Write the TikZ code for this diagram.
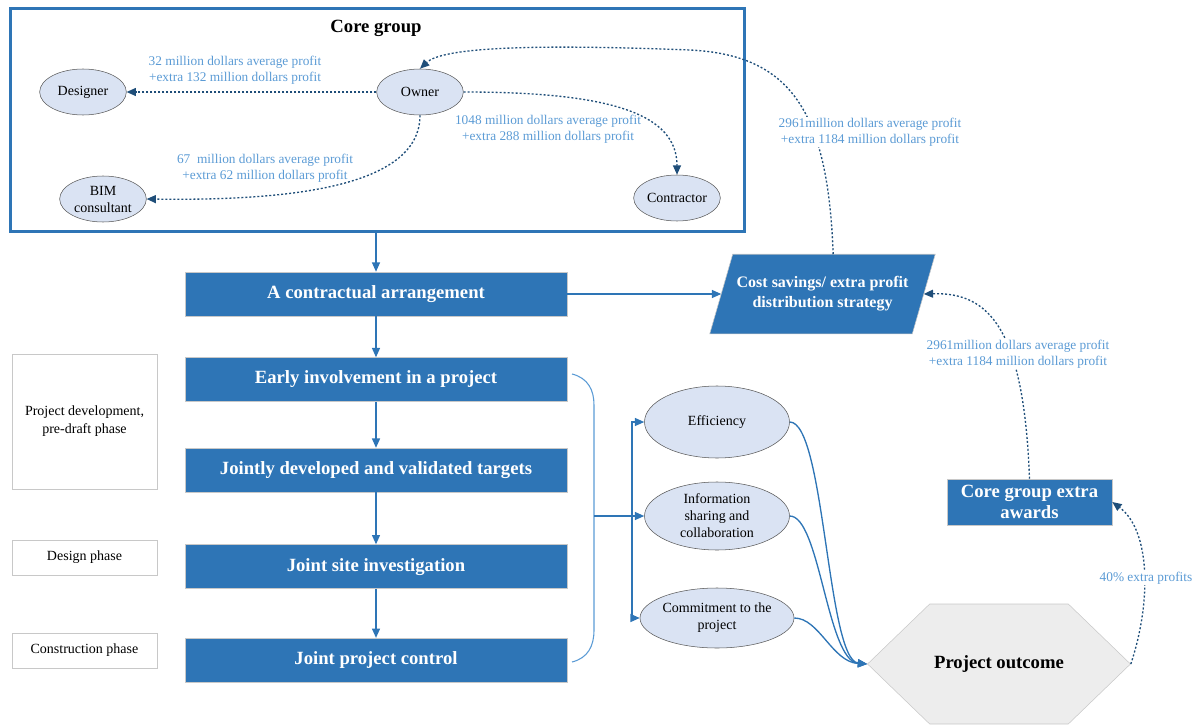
\documentclass[tikz,border=0pt]{standalone}
\usepackage{fontspec}
\setmainfont{Liberation Serif}
\usetikzlibrary{shapes.geometric, shapes.symbols, arrows.meta, positioning, backgrounds}
\definecolor{mainblue}{RGB}{46,117,182}
\definecolor{navy}{RGB}{31,78,121}
\definecolor{labelblue}{RGB}{91,155,213}
\definecolor{ellfill}{RGB}{218,227,243}
\definecolor{ellline}{RGB}{89,89,89}
\definecolor{hexfill}{RGB}{237,237,237}
\definecolor{paleline}{RGB}{200,200,200}

\begin{document}
\begin{tikzpicture}[
  x=0.75pt, y=-0.75pt,
  stagebox/.style={rectangle, draw=paleline, fill=mainblue, minimum width=286.5pt, minimum height=33pt,
    inner sep=2pt, font=\fontsize{14}{16}\selectfont\bfseries\color{white}, align=center},
  party/.style={ellipse, draw=ellline, fill=ellfill, minimum width=65pt, minimum height=34.5pt,
    inner sep=0pt, font=\fontsize{10.5}{12.75}\selectfont, align=center},
  factor/.style={party, minimum width=108.75pt, minimum height=#1},
  phasebox/.style={rectangle, draw=paleline, fill=white, minimum width=108.75pt, minimum height=#1,
    font=\fontsize{10.5}{13.5}\selectfont, align=center},
  money/.style={font=\fontsize{10}{12}\selectfont\color{labelblue}, align=center, inner sep=1pt},
  blueline/.style={-{Triangle[length=7pt, width=6pt]}, line width=1pt, mainblue},
  payline/.style={-{Triangle[length=7pt, width=6pt]}, line width=1pt, navy, dash pattern=on 1.5pt off 1.5pt}
]
\useasboundingbox (0,0) rectangle (1204,728);

% Core group
\node[draw=mainblue, line width=2.25pt, minimum width=550.5pt, minimum height=167.25pt] (core) at (377,119.5) {};
\node[font=\fontsize{14}{16}\selectfont\bfseries] (coretitle) at (376,28) {Core group};
\node[party] (owner) at (420,92) {Owner};
\node[party] (designer) at (83,92) {Designer};
\node[party] (bim) at (103,199) {BIM\\consultant};
\node[party] (contractor) at (677,198) {Contractor};

% Stages
\node[stagebox] (contract) at (376,294) {A contractual arrangement};
\node[stagebox, below=30.75pt of contract] (early) {Early involvement in a project};
\node[stagebox, below=34.5pt of early] (targets) {Jointly developed and validated targets};
\node[stagebox, below=39pt of targets] (site) {Joint site investigation};
\node[stagebox, below=36.75pt of site] (control) {Joint project control};

% Phases
\node[phasebox=101.25pt] (phdev) at (84.5,421.5) {Project development,\\pre-draft phase};
\node[phasebox=26.25pt] (phdesign) at (84.5,557.5) {Design phase};
\node[phasebox=26.25pt] (phbuild) at (84.5,650.5) {Construction phase};

% Strategy, factors, outcome
\node[minimum width=151.5pt, minimum height=59.25pt, inner sep=0pt,
  font=\fontsize{12}{15}\selectfont\bfseries\color{white}, align=center] (cost) at (822.5,294) {Cost savings/ extra profit\\distribution strategy};
\begin{scope}[on background layer]
  \draw[paleline, fill=mainblue] ([xshift=8.6pt]cost.north west) -- ([xshift=8.6pt]cost.north east)
    -- ([xshift=-8.6pt]cost.south east) -- ([xshift=-8.6pt]cost.south west) -- cycle;
\end{scope}
\node[factor=54pt] (eff) at (717,422) {Efficiency};
\node[factor=51pt] (info) at (717,516) {Information\\sharing and\\collaboration};
\node[factor=45pt] (commit) at (717,618) {Commitment to the\\project};
\node[signal, signal to=west and east, signal pointer angle=88, draw=paleline, fill=hexfill,
  minimum width=193.5pt, minimum height=90pt, font=\fontsize{14}{16}\selectfont\bfseries] (outcome) at (999,664) {Project outcome};
\node[stagebox, minimum width=123.75pt, minimum height=34.5pt] (awards) at (1029.5,502) {Core group extra\\awards};

% Main flow
\draw[blueline] (contract.north |- core.south) -- (contract);
\draw[blueline] (contract) -- (early);
\draw[blueline] (early) -- (targets);
\draw[blueline] (targets) -- (site);
\draw[blueline] (site) -- (control);
\draw[blueline] (contract.east) -- (cost.west);

% Bracket to factors
\coordinate (brtop) at (572,374);
\coordinate (brbot) at (572,662);
\coordinate (brmid) at (594,516);
\coordinate (fork) at (632,516);
\draw[labelblue, line width=0.8pt] (brtop) .. controls (588,378) and (594,390) .. (594,405) -- (594,630) .. controls (594,646) and (588,658) .. (brbot);
\draw[blueline] (brmid) -- (info.west);
\draw[blueline] (fork) |- (eff.west);
\draw[blueline] (fork) |- (commit.west);
\draw[blueline] (eff.east) .. controls +(35,0) and +(-40,-4) .. (outcome.west);
\draw[blueline] (info.east) .. controls +(30,0) and +(-40,-3) .. (outcome.west);
\draw[blueline] (commit.east) .. controls +(25,0) and +(-35,-2) .. (outcome.west);

% Profit shares
\draw[payline] (owner.west) -- (designer.east);
\draw[payline] (owner.east) .. controls +(150,0) and +(0,-60) .. (contractor.north);
\draw[payline] (owner.south) .. controls +(0,70) and +(150,2) .. (bim.east);
\draw[payline] ([xshift=8pt]cost.north) .. controls (828,110) and (790,55) .. (690,50) .. controls (560,45) and (445,45) .. (owner.north);
\draw[payline] (awards.north) .. controls (1024,330) and (990,292) .. (cost.east);
\draw[payline] (outcome.east) .. controls (1152,600) and (1150,530) .. (awards.east);

\node[money] (lbldesigner) at (235,70) {32 million dollars average profit\\+extra 132 million dollars profit};
\node[money] (lblcontractor) at (548,129) {1048 million dollars average profit\\+extra 288 million dollars profit};
\node[money] (lblbim) at (265,168) {67\ \ million dollars average profit\\+extra 62 million dollars profit};
\node[money, fill=white] (lblowner) at (870,132) {2961million dollars average profit\\+extra 1184 million dollars profit};
\node[money, fill=white] (lblcost) at (1018,354) {2961million dollars average profit\\+extra 1184 million dollars profit};
\node[money, fill=white] (lblaward) at (1146,578) {40\% extra profits};
\end{tikzpicture}
\end{document}
